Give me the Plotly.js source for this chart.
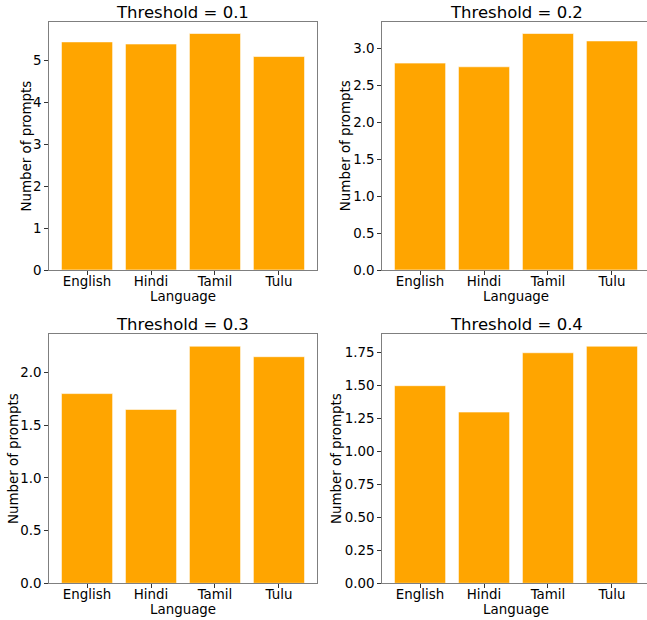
<!DOCTYPE html>
<html>
<head>
<meta charset="utf-8">
<script src="https://cdn.plot.ly/plotly-3.0.1.min.js"></script>
<style>
html,body{margin:0;padding:0;overflow:hidden;background:#fff;}
#chart{width:650px;height:620px;}
</style>
</head>
<body>
<div id="chart"></div>
<script>
const languages = ["English", "Hindi", "Tamil", "Tulu"];
const thresholds = ["0.1", "0.2", "0.3", "0.4"];
const valuesT01 = [5.45, 5.40, 5.65, 5.10];
const valuesT02 = [2.80, 2.75, 3.20, 3.10];
const valuesT03 = [1.80, 1.65, 2.25, 2.15];
const valuesT04 = [1.50, 1.30, 1.75, 1.80];
const yTicks = [
  [0, 1, 2, 3, 4, 5],
  [0, 0.5, 1.0, 1.5, 2.0, 2.5, 3.0],
  [0, 0.5, 1.0, 1.5, 2.0],
  [0, 0.25, 0.5, 0.75, 1.0, 1.25, 1.5, 1.75]
];
const yTickText = [
  ["0", "1", "2", "3", "4", "5"],
  ["0.0", "0.5", "1.0", "1.5", "2.0", "2.5", "3.0"],
  ["0.0", "0.5", "1.0", "1.5", "2.0"],
  ["0.00", "0.25", "0.50", "0.75", "1.00", "1.25", "1.50", "1.75"]
];
const allValues = [valuesT01, valuesT02, valuesT03, valuesT04];

const W = 650, H = 620;
const FONT = "DejaVu Sans, sans-serif";
const TXT = "#000";
// pixel boxes [left, right, top, bottom]
const boxes = [
  [49.3, 316.7, 21.7, 270],
  [382.3, 649.7, 21.7, 270],
  [49.3, 316.7, 334.3, 583.3],
  [382.3, 649.7, 334.3, 583.3]
];
const ytitleX = [26.7, 346.3, 13.3, 336.3];

const data = [];
const layout = {
  width: W, height: H,
  margin: {l: 0, r: 0, t: 0, b: 0},
  paper_bgcolor: "#fff", plot_bgcolor: "#fff",
  showlegend: false,
  font: {family: FONT, size: 13, color: TXT},
  annotations: []
};

allValues.forEach((vals, i) => {
  const n = i + 1;
  const xa = n === 1 ? "x" : "x" + n;
  const ya = n === 1 ? "y" : "y" + n;
  data.push({
    type: "bar", x: languages.map((_, k) => k), y: vals,
    xaxis: xa, yaxis: ya, width: 0.8,
    marker: {color: "#FFA500", line: {color: "rgba(255,255,255,0.6)", width: 1}},
    hoverinfo: "x+y"
  });
  const b = boxes[i];
  const ymax = Math.max(...vals) * 1.05;
  const axKeyX = n === 1 ? "xaxis" : "xaxis" + n;
  const axKeyY = n === 1 ? "yaxis" : "yaxis" + n;
  layout[axKeyX] = {
    domain: [b[0] / W, b[1] / W],
    anchor: ya,
    range: [-0.59, 3.59],
    tickmode: "array", tickvals: languages.map((_, k) => k), ticktext: languages,
    ticks: "outside", ticklen: 4, tickcolor: "#333", tickwidth: 1,
    ticklabelstandoff: -5,
    tickfont: {family: FONT, size: 13.4, color: TXT},
    showline: true, mirror: true, linecolor: "#7f7f7f", linewidth: 1,
    showgrid: false, zeroline: false, fixedrange: true
  };
  layout[axKeyY] = {
    domain: [(H - b[3]) / H, (H - b[2]) / H],
    anchor: xa,
    range: [0, ymax],
    tickmode: "array", tickvals: yTicks[i], ticktext: yTickText[i],
    ticks: "outside", ticklen: 4, tickcolor: "#333", tickwidth: 1,
    tickfont: {family: FONT, size: 13.4, color: TXT},
    showline: true, mirror: true, linecolor: "#7f7f7f", linewidth: 1,
    showgrid: false, zeroline: false, fixedrange: true
  };
  // subplot title
  layout.annotations.push({
    text: "Threshold = " + thresholds[i],
    xref: "paper", yref: "paper",
    x: (b[0] + b[1]) / 2 / W, y: (H - (b[2] - 9.5)) / H,
    xanchor: "center", yanchor: "middle", showarrow: false,
    font: {family: FONT, size: 16.5, color: TXT}
  });
  // x axis title
  layout.annotations.push({
    text: "Language",
    xref: "paper", yref: "paper",
    x: (b[0] + b[1]) / 2 / W, y: (H - (b[3] + 26)) / H,
    xanchor: "center", yanchor: "middle", showarrow: false,
    font: {family: FONT, size: 13.4, color: TXT}
  });
  // y axis title
  layout.annotations.push({
    text: "Number of prompts",
    xref: "paper", yref: "paper",
    x: ytitleX[i] / W, y: (H - (b[2] + b[3]) / 2) / H,
    xanchor: "center", yanchor: "middle", showarrow: false, textangle: -90,
    font: {family: FONT, size: 13.4, color: TXT}
  });
});

Plotly.newPlot("chart", data, layout, {displayModeBar: false, staticPlot: true});
</script>
</body>
</html>
